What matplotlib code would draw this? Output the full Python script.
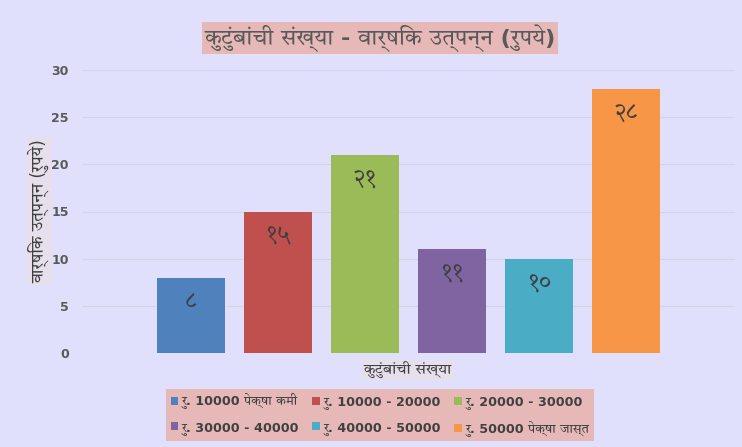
import matplotlib
matplotlib.use("Agg")
import matplotlib.pyplot as plt
from matplotlib import font_manager
from matplotlib.ft2font import FT2Font
from matplotlib.patches import Patch

# डेटा
श्रेणी = ["रु. 10000 पेक्षा कमी", "रु. 10000 - 20000", "रु. 20000 - 30000",
          "रु. 30000 - 40000", "रु. 40000 - 50000", "रु. 50000 पेक्षा जास्त"]
मूल्ये = [8, 15, 21, 11, 10, 28]
लेबल = ["८", "१५", "२१", "११", "१०", "२८"]
रंग = ["#4F81BD", "#C0504D", "#9BBB59", "#8064A2", "#4BACC6", "#F79646"]
y_ticks = [0, 5, 10, 15, 20, 25, 30]

# Devanagari glyphs असलेला font शोधा (mono नको)
candidates = []
for f in font_manager.findSystemFonts():
    try:
        if 0x0915 in FT2Font(f).get_charmap():
            name = font_manager.FontProperties(fname=f).get_name()
            score = 0
            low = (f + name).lower()
            if "mono" in low:
                score -= 10
            if "sans" in low:
                score += 2
            if "devanagari" in low:
                score += 3
            if "bold" in low:
                score -= 1
            candidates.append((score, f, name))
    except Exception:
        pass
candidates.sort(key=lambda c: -c[0])
deva = None
if candidates:
    font_manager.fontManager.addfont(candidates[0][1])
    deva = candidates[0][2]
fams = ["DejaVu Sans", deva] if deva else ["DejaVu Sans"]
plt.rcParams["font.family"] = fams

bg = "#E0E0FC"
fig = plt.figure(figsize=(7.42, 4.47), dpi=100, facecolor=bg)
ax = fig.add_axes([82 / 742, 1 - 353 / 447, 653 / 742, 283 / 447], facecolor=bg)

x = list(range(len(मूल्ये)))
bars = ax.bar(x, मूल्ये, width=0.78, color=रंग, zorder=3)
for b, t in zip(bars, लेबल):
    ax.text(b.get_x() + b.get_width() / 2, b.get_height() - 1.2, t,
            ha="center", va="top", fontsize=17, color="#404040", zorder=4)

ax.set_xlim(-1.253, 6.253)
ax.set_ylim(0, 30)
ax.set_yticks(y_ticks)
ax.set_xticks([])
ax.tick_params(axis="y", length=0, labelsize=9, labelcolor="#595959", pad=9.5)
for lab in ax.get_yticklabels():
    lab.set_fontweight("bold")
ax.grid(axis="y", color="#D4D4E8", linewidth=0.8, zorder=0)
for s in ax.spines.values():
    s.set_visible(False)

fig.text(380 / 742, 1 - 38 / 447, "कुटुंबांची संख्या - वार्षिक उत्पन्न (रुपये)",
         ha="center", va="center", fontsize=16, color="#595959", fontweight="bold",
         bbox=dict(boxstyle="square,pad=0.1", fc="#E6B8B8", ec="none"))
fig.text(39 / 742, 1 - 211 / 447, "वार्षिक उत्पन्न (रुपये)", rotation=90,
         ha="center", va="center", fontsize=12, color="#404040",
         bbox=dict(boxstyle="square,pad=0.15", fc="#E6E0EC", ec="none"))
fig.text(408 / 742, 1 - 370 / 447, "कुटुंबांची संख्या",
         ha="center", va="center", fontsize=11, color="#404040",
         bbox=dict(boxstyle="square,pad=0.1", fc="#E6E0EC", ec="none"))

# legend: rows प्रमाणे क्रम
handles = [Patch(facecolor=c, label=l) for c, l in zip(रंग, श्रेणी)]
order = [0, 3, 1, 4, 2, 5]
leg = fig.legend(handles=[handles[i] for i in order], loc="center",
                 bbox_to_anchor=(380 / 742, 1 - 415 / 447),
                 ncol=3, frameon=True, fontsize=9.2, handlelength=0.6, handleheight=0.6,
                 handletextpad=0.3, columnspacing=1.0, borderpad=0.35, labelspacing=0.9)
leg.get_frame().set_facecolor("#E6B8B8")
leg.get_frame().set_edgecolor("none")
leg.get_frame().set_boxstyle("square", pad=0)
leg.get_frame().set_alpha(1)
for t in leg.get_texts():
    t.set_color("#404040")
    t.set_fontweight("bold")

fig.savefig("out.png", dpi=100, facecolor=bg)
